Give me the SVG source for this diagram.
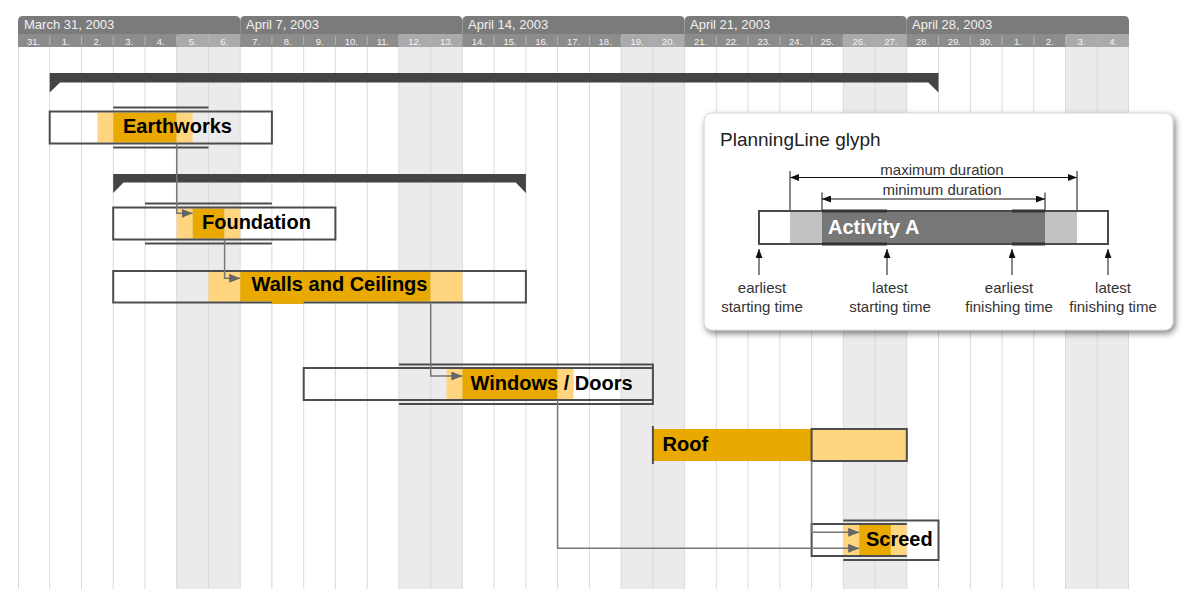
<svg xmlns="http://www.w3.org/2000/svg" width="1200" height="608" viewBox="0 0 1200 608">
<style>
.grid line{stroke:#dadada;stroke-width:1}
.we{fill:#ebebeb}
.wk{fill:#7b7b7b}
.wkt{font-family:"Liberation Sans",Arial,sans-serif;font-size:13px;fill:#f2f2f2}
.dayrow{fill:#8c8c8c}
.dayw{fill:#aaaaaa}
.sep line{stroke:#b3b3b3;stroke-width:1}
.dl{font-family:"Liberation Sans",Arial,sans-serif;font-size:9.5px;fill:#f4f4f4;text-anchor:middle}
.dk{fill:#e9a900}
.lt{fill:#ffd57f}
.box{fill:none;stroke:#4d4d4d;stroke-width:2}
.ln{stroke:#4d4d4d;stroke-width:2;fill:none}
.lbl{font-family:"Liberation Sans",Arial,sans-serif;font-size:20px;font-weight:bold;fill:#000}
.sum{fill:#444}
.con path{fill:none;stroke:#777;stroke-width:1.5}
.lg{font-family:"Liberation Sans",Arial,sans-serif;font-size:15px;fill:#333}
.lgc{text-anchor:middle}
.dim{stroke:#111;stroke-width:1;fill:none}
</style>
<defs>
<marker id="arr" markerUnits="userSpaceOnUse" markerWidth="11" markerHeight="9" refX="11" refY="4.5" orient="auto"><path d="M0,0 L11,4.5 L0,9 Z" fill="#666"/></marker>
<marker id="da" markerUnits="userSpaceOnUse" markerWidth="9" markerHeight="7" refX="9" refY="3.5" orient="auto-start-reverse"><path d="M0,0 L9,3.5 L0,7 Z" fill="#111"/></marker>
<filter id="sh" x="-5%" y="-5%" width="112%" height="120%"><feDropShadow dx="2" dy="3" stdDeviation="3" flood-color="#000" flood-opacity="0.5"/></filter>
</defs>
<rect width="1200" height="608" fill="#fff"/>

<g id="calendar">
<rect class="we" x="176.7" y="47" width="63.5" height="542"/>
<rect class="we" x="398.9" y="47" width="63.5" height="542"/>
<rect class="we" x="621.1" y="47" width="63.5" height="542"/>
<rect class="we" x="843.3" y="47" width="63.5" height="542"/>
<rect class="we" x="1065.5" y="47" width="63.5" height="542"/>
<g class="grid">
<line x1="18.5" y1="47" x2="18.5" y2="589"/>
<line x1="49.7" y1="47" x2="49.7" y2="589"/>
<line x1="81.5" y1="47" x2="81.5" y2="589"/>
<line x1="113.2" y1="47" x2="113.2" y2="589"/>
<line x1="145" y1="47" x2="145" y2="589"/>
<line x1="176.7" y1="47" x2="176.7" y2="589"/>
<line x1="208.5" y1="47" x2="208.5" y2="589"/>
<line x1="240.2" y1="47" x2="240.2" y2="589"/>
<line x1="271.9" y1="47" x2="271.9" y2="589"/>
<line x1="303.7" y1="47" x2="303.7" y2="589"/>
<line x1="335.4" y1="47" x2="335.4" y2="589"/>
<line x1="367.2" y1="47" x2="367.2" y2="589"/>
<line x1="398.9" y1="47" x2="398.9" y2="589"/>
<line x1="430.7" y1="47" x2="430.7" y2="589"/>
<line x1="462.4" y1="47" x2="462.4" y2="589"/>
<line x1="494.1" y1="47" x2="494.1" y2="589"/>
<line x1="525.9" y1="47" x2="525.9" y2="589"/>
<line x1="557.6" y1="47" x2="557.6" y2="589"/>
<line x1="589.4" y1="47" x2="589.4" y2="589"/>
<line x1="621.1" y1="47" x2="621.1" y2="589"/>
<line x1="652.9" y1="47" x2="652.9" y2="589"/>
<line x1="684.6" y1="47" x2="684.6" y2="589"/>
<line x1="716.3" y1="47" x2="716.3" y2="589"/>
<line x1="748.1" y1="47" x2="748.1" y2="589"/>
<line x1="779.8" y1="47" x2="779.8" y2="589"/>
<line x1="811.6" y1="47" x2="811.6" y2="589"/>
<line x1="843.3" y1="47" x2="843.3" y2="589"/>
<line x1="875.1" y1="47" x2="875.1" y2="589"/>
<line x1="906.8" y1="47" x2="906.8" y2="589"/>
<line x1="938.5" y1="47" x2="938.5" y2="589"/>
<line x1="970.3" y1="47" x2="970.3" y2="589"/>
<line x1="1002" y1="47" x2="1002" y2="589"/>
<line x1="1033.8" y1="47" x2="1033.8" y2="589"/>
<line x1="1065.5" y1="47" x2="1065.5" y2="589"/>
<line x1="1097.3" y1="47" x2="1097.3" y2="589"/>
<line x1="1128.5" y1="47" x2="1128.5" y2="589"/>
</g>
<path class="wk" d="M18,34 V21 Q18,16 23,16 H235.2 Q240.2,16 240.2,21 V34 Z"/>
<path class="wk" d="M240.2,34 V21 Q240.2,16 245.2,16 H457.4 Q462.4,16 462.4,21 V34 Z"/>
<path class="wk" d="M462.4,34 V21 Q462.4,16 467.4,16 H679.6 Q684.6,16 684.6,21 V34 Z"/>
<path class="wk" d="M684.6,34 V21 Q684.6,16 689.6,16 H901.8 Q906.8,16 906.8,21 V34 Z"/>
<path class="wk" d="M906.8,34 V21 Q906.8,16 911.8,16 H1124 Q1129,16 1129,21 V34 Z"/>
<text class="wkt" x="24" y="29">March 31, 2003</text>
<text class="wkt" x="246" y="29">April 7, 2003</text>
<text class="wkt" x="468" y="29">April 14, 2003</text>
<text class="wkt" x="690" y="29">April 21, 2003</text>
<text class="wkt" x="912" y="29">April 28, 2003</text>
<rect class="dayrow" x="18" y="34" width="1111" height="13"/>
<rect class="dayw" x="176.7" y="34" width="63.5" height="13"/>
<rect class="dayw" x="398.9" y="34" width="63.5" height="13"/>
<rect class="dayw" x="621.1" y="34" width="63.5" height="13"/>
<rect class="dayw" x="843.3" y="34" width="63.5" height="13"/>
<rect class="dayw" x="1065.5" y="34" width="63.5" height="13"/>
<g class="sep">
<line x1="49.7" y1="36" x2="49.7" y2="45"/><line x1="81.5" y1="36" x2="81.5" y2="45"/><line x1="113.2" y1="36" x2="113.2" y2="45"/><line x1="145" y1="36" x2="145" y2="45"/><line x1="176.7" y1="36" x2="176.7" y2="45"/><line x1="208.5" y1="36" x2="208.5" y2="45"/>
<line x1="271.9" y1="36" x2="271.9" y2="45"/><line x1="303.7" y1="36" x2="303.7" y2="45"/><line x1="335.4" y1="36" x2="335.4" y2="45"/><line x1="367.2" y1="36" x2="367.2" y2="45"/><line x1="398.9" y1="36" x2="398.9" y2="45"/><line x1="430.7" y1="36" x2="430.7" y2="45"/>
<line x1="494.1" y1="36" x2="494.1" y2="45"/><line x1="525.9" y1="36" x2="525.9" y2="45"/><line x1="557.6" y1="36" x2="557.6" y2="45"/><line x1="589.4" y1="36" x2="589.4" y2="45"/><line x1="621.1" y1="36" x2="621.1" y2="45"/><line x1="652.9" y1="36" x2="652.9" y2="45"/>
<line x1="716.3" y1="36" x2="716.3" y2="45"/><line x1="748.1" y1="36" x2="748.1" y2="45"/><line x1="779.8" y1="36" x2="779.8" y2="45"/><line x1="811.6" y1="36" x2="811.6" y2="45"/><line x1="843.3" y1="36" x2="843.3" y2="45"/><line x1="875.1" y1="36" x2="875.1" y2="45"/>
<line x1="938.5" y1="36" x2="938.5" y2="45"/><line x1="970.3" y1="36" x2="970.3" y2="45"/><line x1="1002" y1="36" x2="1002" y2="45"/><line x1="1033.8" y1="36" x2="1033.8" y2="45"/><line x1="1065.5" y1="36" x2="1065.5" y2="45"/><line x1="1097.3" y1="36" x2="1097.3" y2="45"/>
</g>
<g class="dl">
<text x="33.5" y="44.5">31.</text><text x="65.6" y="44.5">1.</text><text x="97.4" y="44.5">2.</text><text x="129.1" y="44.5">3.</text><text x="160.8" y="44.5">4.</text><text x="192.6" y="44.5">5.</text><text x="224.3" y="44.5">6.</text>
<text x="256.1" y="44.5">7.</text><text x="287.8" y="44.5">8.</text><text x="319.6" y="44.5">9.</text><text x="351.3" y="44.5">10.</text><text x="383" y="44.5">11.</text><text x="414.8" y="44.5">12.</text><text x="446.5" y="44.5">13.</text>
<text x="478.3" y="44.5">14.</text><text x="510" y="44.5">15.</text><text x="541.8" y="44.5">16.</text><text x="573.5" y="44.5">17.</text><text x="605.2" y="44.5">18.</text><text x="637" y="44.5">19.</text><text x="668.7" y="44.5">20.</text>
<text x="700.5" y="44.5">21.</text><text x="732.2" y="44.5">22.</text><text x="764" y="44.5">23.</text><text x="795.7" y="44.5">24.</text><text x="827.4" y="44.5">25.</text><text x="859.2" y="44.5">26.</text><text x="890.9" y="44.5">27.</text>
<text x="922.7" y="44.5">28.</text><text x="954.4" y="44.5">29.</text><text x="986.2" y="44.5">30.</text><text x="1017.9" y="44.5">1.</text><text x="1049.6" y="44.5">2.</text><text x="1081.4" y="44.5">3.</text><text x="1113.1" y="44.5">4.</text>
</g>
</g>

<g id="summary-project">
<path class="sum" d="M49.7,73 H938.5 V92.5 L928.3,82.5 H60 L49.7,92.5 Z"/>
</g>
<g id="summary-shell">
<path class="sum" d="M113.2,174 H525.9 V193 L515.7,182.5 H123.5 L113.2,193 Z"/>
</g>

<g id="earthworks">
<rect class="lt" x="97.4" y="112.5" width="15.8" height="30"/>
<rect class="dk" x="113.2" y="112.5" width="63.5" height="30"/>
<rect class="lt" x="176.7" y="112.5" width="15.9" height="30"/>
<rect class="box" x="49.7" y="111.5" width="222.2" height="32"/>
<path class="ln" d="M113.2,107.5 H208.5 M113.2,147.5 H208.5"/>
<text class="lbl" x="123" y="132.5">Earthworks</text>
</g>

<g id="foundation">
<rect class="lt" x="176.7" y="208.5" width="15.9" height="30"/>
<rect class="dk" x="192.6" y="208.5" width="32" height="30"/>
<rect class="lt" x="224.6" y="208.5" width="15.6" height="30"/>
<rect class="box" x="113.2" y="207.5" width="222.2" height="32"/>
<path class="ln" d="M145,203.5 H271.9 M145,243.5 H271.9"/>
<text class="lbl" x="202" y="228.5">Foundation</text>
</g>

<g id="walls">
<rect class="lt" x="208.5" y="272" width="31.7" height="29.5"/>
<rect class="dk" x="240.2" y="272" width="190.5" height="29.5"/>
<rect class="lt" x="430.7" y="272" width="31.7" height="29.5"/>
<rect class="box" x="113.2" y="271" width="412.7" height="31.5"/>
<rect class="dk" x="271.9" y="290" width="31.8" height="13.8"/>
<text class="lbl" x="251.5" y="291">Walls and Ceilings</text>
</g>

<g id="windows">
<rect class="lt" x="446.5" y="369" width="15.9" height="30"/>
<rect class="dk" x="462.4" y="369" width="95.2" height="30"/>
<rect class="lt" x="557.6" y="369" width="15.9" height="30"/>
<path class="box" d="M652.9,368 H303.7 V400 H652.9"/>
<path class="ln" d="M398.9,364.5 H652.9 V404 H398.9"/>
<text class="lbl" x="470.5" y="390">Windows / Doors</text>
</g>

<g id="roof">
<rect class="dk" x="652.9" y="429" width="158.7" height="32"/>
<rect class="lt" x="811.6" y="429" width="95.2" height="32"/>
<rect class="box" x="811.6" y="429" width="95.2" height="32"/>
<path class="ln" d="M652.9,426 V464"/>
<text class="lbl" x="662.5" y="451">Roof</text>
</g>

<g id="screed">
<rect class="lt" x="843.3" y="525" width="15.9" height="30"/>
<rect class="dk" x="859.2" y="525" width="31.7" height="30"/>
<rect class="lt" x="890.9" y="525" width="15.9" height="30"/>
<path class="box" d="M906.8,524 H811.6 V556 H906.8"/>
<path class="ln" d="M843.3,520.5 H938.5 V560 H843.3"/>
<text class="lbl" x="866" y="545.5">Screed</text>
</g>

<g id="connectors" class="con">
<path d="M176.7,143.5 V213.3 H192.6" marker-end="url(#arr)"/>
<path d="M224.6,239.5 V278.3 H240.2" marker-end="url(#arr)"/>
<path d="M430.7,302.5 V376 H462.4" marker-end="url(#arr)"/>
<path d="M557.6,400 V548.3 H859.2" marker-end="url(#arr)"/>
<path d="M811.6,461 V532.3 H859.2" marker-end="url(#arr)"/>
</g>

<g id="legend">
<rect x="704" y="113" width="469" height="217" rx="8" fill="#fff" stroke="#d4d4d4" stroke-width="1" filter="url(#sh)"/>
<text x="720" y="146" font-family="'Liberation Sans',Arial,sans-serif" font-size="19" fill="#222">PlanningLine glyph</text>
<path class="dim" d="M790,171 V210 M1077,171 V210 M822,192.5 V210 M1045,192.5 V210"/>
<path class="dim" d="M790,177.5 H1077" marker-start="url(#da)" marker-end="url(#da)"/>
<path class="dim" d="M822,199 H1045" marker-start="url(#da)" marker-end="url(#da)"/>
<text class="lg lgc" x="942" y="175">maximum duration</text>
<text class="lg lgc" x="942" y="195">minimum duration</text>
<rect x="759" y="211" width="349" height="33" fill="#fff"/>
<rect x="790" y="211" width="32" height="33" fill="#c2c2c2"/>
<rect x="822" y="211" width="223" height="33" fill="#777"/>
<rect x="1045" y="211" width="32" height="33" fill="#c2c2c2"/>
<rect x="759" y="211" width="349" height="33" fill="none" stroke="#4a4a4a" stroke-width="2"/>
<path d="M822,211 H887 M1012,211 H1045 M822,244 H887 M1012,244 H1045" stroke="#333" stroke-width="3" fill="none"/>
<text x="828" y="233.5" font-family="'Liberation Sans',Arial,sans-serif" font-size="20" font-weight="bold" fill="#fff">Activity A</text>
<path class="dim" d="M759,275 V249" marker-end="url(#da)"/>
<path class="dim" d="M887,275 V249" marker-end="url(#da)"/>
<path class="dim" d="M1012,275 V249" marker-end="url(#da)"/>
<path class="dim" d="M1108,275 V249" marker-end="url(#da)"/>
<text class="lg lgc" x="762" y="293">earliest</text>
<text class="lg lgc" x="762" y="311.5">starting time</text>
<text class="lg lgc" x="890" y="293">latest</text>
<text class="lg lgc" x="890" y="311.5">starting time</text>
<text class="lg lgc" x="1009" y="293">earliest</text>
<text class="lg lgc" x="1009" y="311.5">finishing time</text>
<text class="lg lgc" x="1113" y="293">latest</text>
<text class="lg lgc" x="1113" y="311.5">finishing time</text>
</g>
</svg>
